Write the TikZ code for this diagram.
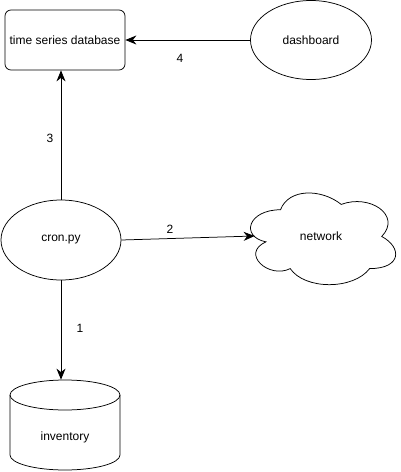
\documentclass[tikz,border=0pt]{standalone}
\usepackage{fontspec}
\setmainfont{Liberation Sans}
\usetikzlibrary{arrows.meta,shapes.geometric}

\begin{document}
\begin{tikzpicture}[x=1pt, y=-1pt, line width=0.75pt,
    every node/.style={font=\fontsize{12}{14}\selectfont},
    >={Stealth[length=11pt,width=9pt,inset=3.5pt]},
    oval/.style={draw, ellipse, inner sep=0pt, minimum width=120pt, minimum height=80pt}]
        \useasboundingbox (0,0) rectangle (401,472);
        \node[draw, rounded corners=6pt, inner sep=0pt, minimum width=120pt, minimum height=60pt] (db) at (65,40) {time series database};
        \node[oval, minimum width=121pt, minimum height=79pt] (dash) at (311,40) {dashboard};
        \node[oval] (cron) at (61,240) {cron.py};
        \draw[shift={(240,183)}, x=162pt, y=-107pt] (0.25,0.25) .. controls (0.05,0.25) and (0,0.5) .. (0.16,0.55)
            .. controls (0,0.66) and (0.18,0.9) .. (0.31,0.8) .. controls (0.4,1) and (0.7,1) .. (0.8,0.8)
            .. controls (1,0.8) and (1,0.6) .. (0.875,0.5) .. controls (1,0.3) and (0.8,0.1) .. (0.625,0.2)
            .. controls (0.5,0.05) and (0.3,0.05) .. (0.25,0.25) -- cycle;
        \node[ellipse, minimum width=132pt, minimum height=90pt] (net) at (321,236) {network};
        \draw (10,395) -- (10,455) arc[start angle=180, end angle=0, x radius=55, y radius=15] -- (120,395);
        \draw (65,395) ellipse[x radius=55, y radius=15];
        \node[minimum width=110pt, minimum height=90pt] (inv) at (65,425) {};
        \node (invtext) at (65,437) {inventory};
        \draw[->] (dash.west) -- (db.east);
        \draw[->] (cron.north) -- (cron.north |- db.south);
        \draw[->] (cron.east) -- (net.west);
        \draw[->] (cron.south) -- (cron.south |- inv.north);
        \node (n1) at (80,328) {1};
        \node (n2) at (170,229) {2};
        \node (n3) at (50,138) {3};
        \node (n4) at (180,58) {4};
    \end{tikzpicture}
\end{document}
